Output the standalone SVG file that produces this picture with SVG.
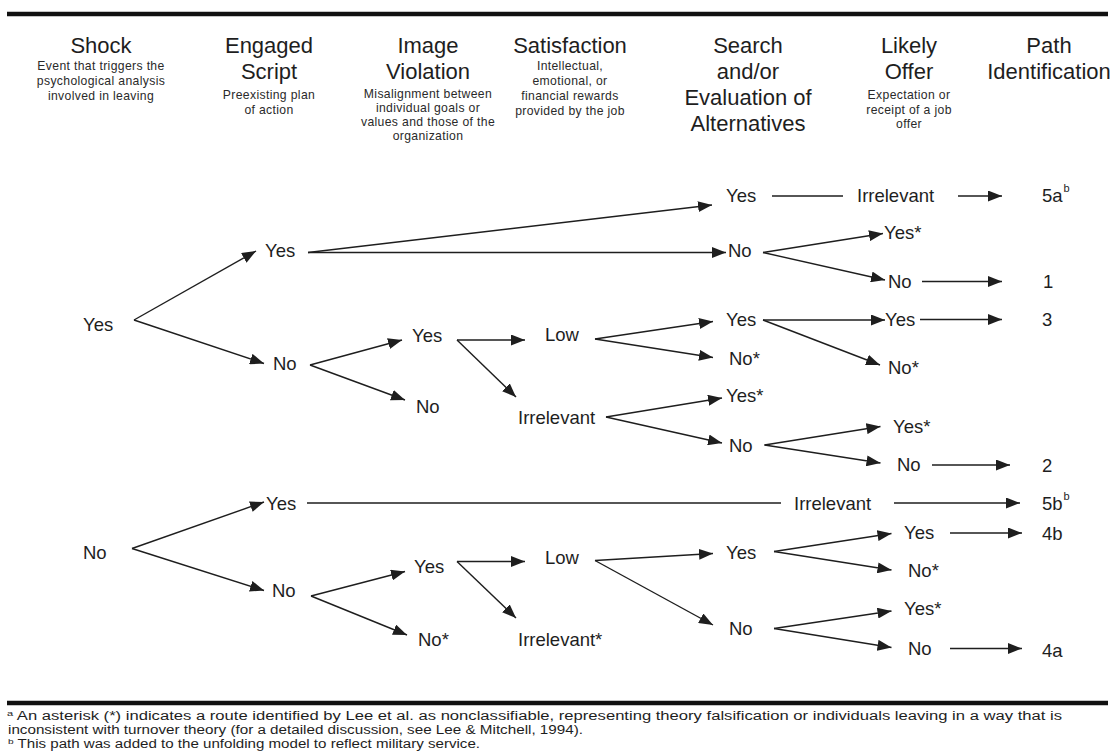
<svg xmlns="http://www.w3.org/2000/svg" width="1117" height="751" viewBox="0 0 1117 751">
<style>
.h{font-family:"Liberation Sans",Arial,sans-serif;font-size:22px;fill:#1e1e1e;text-anchor:middle}
.s{font-family:"Liberation Sans",Arial,sans-serif;font-size:12.2px;letter-spacing:0.35px;fill:#2a2a2a;text-anchor:middle}
.t{font-family:"Liberation Sans",Arial,sans-serif;font-size:18.5px;fill:#1e1e1e}
.sup{font-family:"Liberation Sans",Arial,sans-serif;font-size:11px;fill:#1e1e1e}
.f{font-family:"Liberation Sans",Arial,sans-serif;font-size:12px;fill:#1e1e1e}
.c line{stroke:#1e1e1e;stroke-width:1.4;fill:none}
.a{marker-end:url(#ah)}
.rule{stroke:#111;stroke-width:4.5}
</style>
<defs>
<marker id="ah" viewBox="0 0 14 11" refX="14" refY="5.5" markerWidth="14" markerHeight="11" markerUnits="userSpaceOnUse" orient="auto"><path d="M0,0 L14,5.5 L0,11 z" fill="#1e1e1e"/></marker>
</defs>
<rect width="1117" height="751" fill="#fff"/>
<line class="rule" x1="7" y1="14" x2="1108" y2="14"/>
<line class="rule" x1="7" y1="703" x2="1108" y2="703"/>

<g id="hdr-shock">
<text class="h" x="101" y="53">Shock</text>
<text class="s" x="101" y="70">Event that triggers the</text>
<text class="s" x="101" y="85">psychological analysis</text>
<text class="s" x="101" y="100">involved in leaving</text>
</g>
<g id="hdr-engaged">
<text class="h" x="269" y="53">Engaged</text>
<text class="h" x="269" y="79">Script</text>
<text class="s" x="269" y="99">Preexisting plan</text>
<text class="s" x="269" y="114">of action</text>
</g>
<g id="hdr-image">
<text class="h" x="428" y="53">Image</text>
<text class="h" x="428" y="79">Violation</text>
<text class="s" x="428" y="98">Misalignment between</text>
<text class="s" x="428" y="112">individual goals or</text>
<text class="s" x="428" y="126">values and those of the</text>
<text class="s" x="428" y="140">organization</text>
</g>
<g id="hdr-satisfaction">
<text class="h" x="570" y="53">Satisfaction</text>
<text class="s" x="570" y="70">Intellectual,</text>
<text class="s" x="570" y="85">emotional, or</text>
<text class="s" x="570" y="100">financial rewards</text>
<text class="s" x="570" y="115">provided by the job</text>
</g>
<g id="hdr-search">
<text class="h" x="748" y="53">Search</text>
<text class="h" x="748" y="79">and/or</text>
<text class="h" x="748" y="105">Evaluation of</text>
<text class="h" x="748" y="131">Alternatives</text>
</g>
<g id="hdr-offer">
<text class="h" x="909" y="53">Likely</text>
<text class="h" x="909" y="79">Offer</text>
<text class="s" x="909" y="99">Expectation or</text>
<text class="s" x="909" y="114">receipt of a job</text>
<text class="s" x="909" y="128">offer</text>
</g>
<g id="hdr-path">
<text class="h" x="1049" y="53">Path</text>
<text class="h" x="1049" y="79">Identification</text>
</g>

<g class="c" id="connectors">
<line class="a" x1="134" y1="320" x2="256" y2="251"/>
<line class="a" x1="134" y1="320" x2="264" y2="363.5"/>
<line class="a" x1="308" y1="252.5" x2="712" y2="205"/>
<line class="a" x1="308" y1="252.5" x2="726" y2="252.5"/>
<line class="a" x1="310" y1="365" x2="402" y2="340"/>
<line class="a" x1="310" y1="365" x2="405" y2="400"/>
<line class="a" x1="457" y1="340" x2="525" y2="340"/>
<line class="a" x1="457" y1="340" x2="516" y2="397"/>
<line class="a" x1="595" y1="339" x2="713" y2="321.5"/>
<line class="a" x1="595" y1="339" x2="713" y2="357.5"/>
<line class="a" x1="606" y1="417" x2="722" y2="398"/>
<line class="a" x1="606" y1="417" x2="722" y2="443"/>
<line x1="772" y1="196" x2="843" y2="196"/>
<line class="a" x1="958" y1="196" x2="1002" y2="196"/>
<line class="a" x1="763" y1="252.5" x2="883" y2="233.5"/>
<line class="a" x1="763" y1="252.5" x2="885" y2="280"/>
<line class="a" x1="922" y1="281.5" x2="1002" y2="281.5"/>
<line class="a" x1="763" y1="320" x2="885" y2="320"/>
<line class="a" x1="763" y1="320" x2="880" y2="365"/>
<line class="a" x1="920" y1="319.5" x2="1002" y2="319.5"/>
<line class="a" x1="764.5" y1="445" x2="880.5" y2="426.5"/>
<line class="a" x1="764.5" y1="445" x2="880.5" y2="463"/>
<line class="a" x1="932" y1="465" x2="1010" y2="465"/>
<line class="a" x1="132" y1="548.5" x2="264" y2="502"/>
<line class="a" x1="132" y1="548.5" x2="264" y2="590.5"/>
<line x1="307" y1="503" x2="781" y2="503"/>
<line class="a" x1="894" y1="503" x2="1020" y2="503"/>
<line class="a" x1="311" y1="596" x2="405" y2="571.5"/>
<line class="a" x1="311" y1="596" x2="407" y2="635"/>
<line class="a" x1="457" y1="561.5" x2="525" y2="561.5"/>
<line class="a" x1="457" y1="561.5" x2="516" y2="618"/>
<line class="a" x1="595" y1="560.5" x2="713" y2="553.5"/>
<line class="a" x1="595" y1="560.5" x2="713" y2="625"/>
<line class="a" x1="774" y1="551.5" x2="891.5" y2="533.5"/>
<line class="a" x1="774" y1="551.5" x2="891.5" y2="570"/>
<line class="a" x1="950" y1="533" x2="1022" y2="533"/>
<line class="a" x1="774" y1="628.5" x2="891.5" y2="611"/>
<line class="a" x1="774" y1="628.5" x2="891.5" y2="647.5"/>
<line class="a" x1="950" y1="648.5" x2="1022" y2="648.5"/>
</g>

<g id="shock-yes"><text class="t" x="83" y="330.5">Yes</text></g>
<g id="shock-no"><text class="t" x="83" y="558.5">No</text></g>
<g id="es-yes-1"><text class="t" x="265" y="256.5">Yes</text></g>
<g id="es-no-1"><text class="t" x="273" y="369.5">No</text></g>
<g id="es-yes-2"><text class="t" x="266" y="509.5">Yes</text></g>
<g id="es-no-2"><text class="t" x="272" y="596.5">No</text></g>
<g id="iv-yes-1"><text class="t" x="412" y="341.5">Yes</text></g>
<g id="iv-no-1"><text class="t" x="416" y="412.5">No</text></g>
<g id="iv-yes-2"><text class="t" x="414" y="572.5">Yes</text></g>
<g id="iv-no-2"><text class="t" x="418" y="645.5">No*</text></g>
<g id="sat-low-1"><text class="t" x="545" y="340.5">Low</text></g>
<g id="sat-irr-1"><text class="t" x="518" y="423.5">Irrelevant</text></g>
<g id="sat-low-2"><text class="t" x="545" y="563.5">Low</text></g>
<g id="sat-irr-2"><text class="t" x="518" y="645.5">Irrelevant*</text></g>
<g id="se-yes-1"><text class="t" x="726" y="201.5">Yes</text></g>
<g id="se-no-2"><text class="t" x="728" y="256.5">No</text></g>
<g id="se-yes-3"><text class="t" x="726" y="326">Yes</text></g>
<g id="se-no-4"><text class="t" x="729" y="364.5">No*</text></g>
<g id="se-yes-5"><text class="t" x="726" y="401.5">Yes*</text></g>
<g id="se-no-6"><text class="t" x="729" y="451.5">No</text></g>
<g id="se-yes-7"><text class="t" x="726" y="558.5">Yes</text></g>
<g id="se-no-8"><text class="t" x="729" y="634.5">No</text></g>
<g id="lo-irr-1"><text class="t" x="857" y="201.5">Irrelevant</text></g>
<g id="lo-yes-2"><text class="t" x="884" y="238.5">Yes*</text></g>
<g id="lo-no-2"><text class="t" x="888" y="287.5">No</text></g>
<g id="lo-yes-3"><text class="t" x="885" y="325.5">Yes</text></g>
<g id="lo-no-3"><text class="t" x="888" y="373.5">No*</text></g>
<g id="lo-yes-4"><text class="t" x="893" y="432.5">Yes*</text></g>
<g id="lo-no-4"><text class="t" x="897" y="471">No</text></g>
<g id="lo-irr-5"><text class="t" x="794" y="509.5">Irrelevant</text></g>
<g id="lo-yes-6"><text class="t" x="904" y="538.5">Yes</text></g>
<g id="lo-no-6"><text class="t" x="908" y="576.5">No*</text></g>
<g id="lo-yes-7"><text class="t" x="904" y="614.5">Yes*</text></g>
<g id="lo-no-7"><text class="t" x="908" y="654.5">No</text></g>
<g id="p-5a"><text class="t" x="1042" y="201.5">5a<tspan class="sup" dy="-10" dx="1">b</tspan></text></g>
<g id="p-1"><text class="t" x="1043" y="288">1</text></g>
<g id="p-3"><text class="t" x="1042" y="326">3</text></g>
<g id="p-2"><text class="t" x="1042" y="471.5">2</text></g>
<g id="p-5b"><text class="t" x="1042" y="509.5">5b<tspan class="sup" dy="-10" dx="1">b</tspan></text></g>
<g id="p-4b"><text class="t" x="1042" y="539.5">4b</text></g>
<g id="p-4a"><text class="t" x="1042" y="656.5">4a</text></g>

<g id="footnotes">
<text class="f" x="7" y="720" textLength="1055" lengthAdjust="spacingAndGlyphs"><tspan font-size="8" dy="-4">a</tspan><tspan dy="4"> An asterisk (*) indicates a route identified by Lee et al. as nonclassifiable, representing theory falsification or individuals leaving in a way that is</tspan></text>
<text class="f" x="8" y="734" textLength="575" lengthAdjust="spacingAndGlyphs">inconsistent with turnover theory (for a detailed discussion, see Lee &amp; Mitchell, 1994).</text>
<text class="f" x="8" y="748" textLength="472" lengthAdjust="spacingAndGlyphs"><tspan font-size="8" dy="-4">b</tspan><tspan dy="4"> This path was added to the unfolding model to reflect military service.</tspan></text>
</g>
</svg>
